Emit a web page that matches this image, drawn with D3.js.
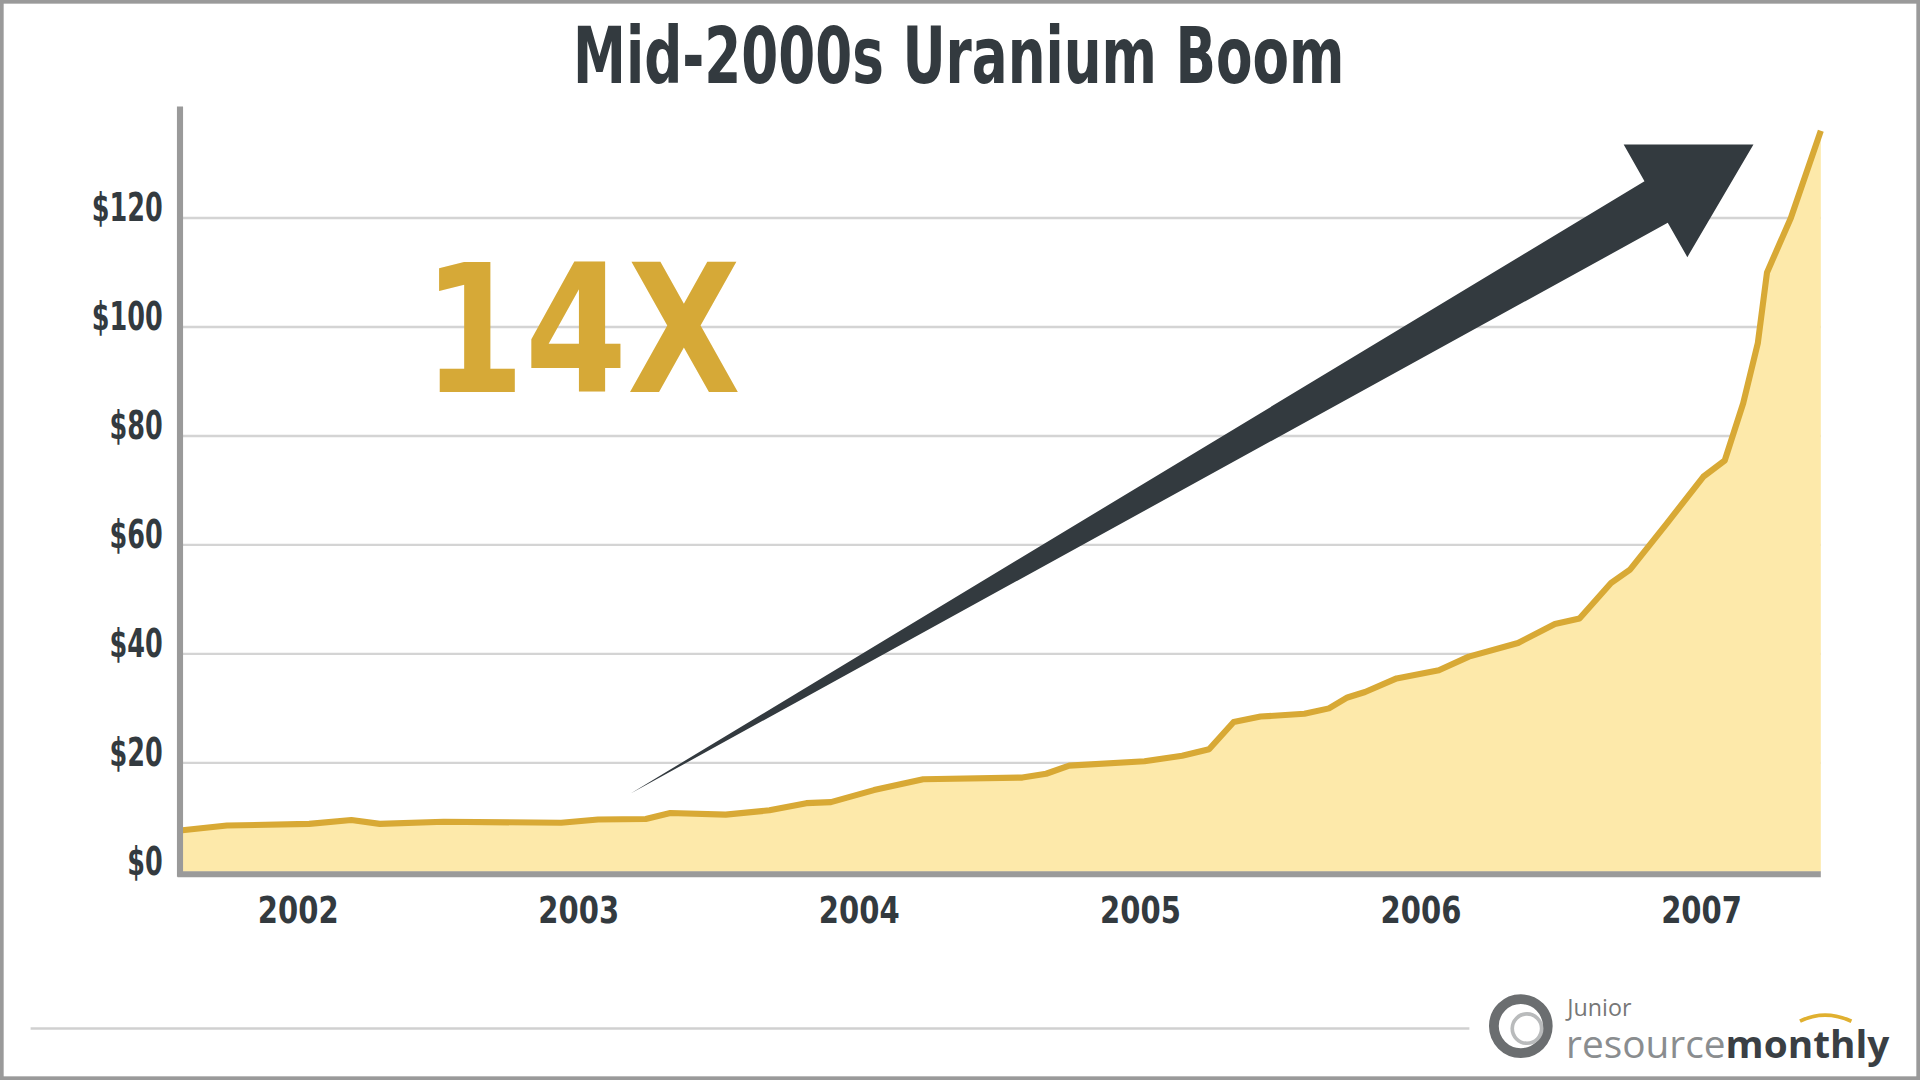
<!DOCTYPE html>
<html><head><meta charset="utf-8">
<script src="https://cdn.jsdelivr.net/npm/d3@7"></script>
<style>
html,body{margin:0;padding:0;background:#fff;}
svg{display:block;}
</style></head>
<body>
<svg id="chart" width="1920" height="1080" viewBox="0 0 1568 882"></svg>
<script>
// uranium spot price, USD/lb
const dates = ['2001-08-01','2001-10-01','2002-01-16','2002-03-12','2002-04-18','2002-07-10','2002-12-10',
  '2003-01-27','2003-03-30','2003-05-01','2003-07-12','2003-09-07','2003-10-25','2003-11-26',
  '2004-01-21','2004-03-25','2004-08-01','2004-09-01','2004-10-01','2005-01-07','2005-02-25',
  '2005-04-01','2005-05-03','2005-06-07','2005-08-03','2005-09-04','2005-09-28','2005-10-21',
  '2005-12-01','2006-01-25','2006-03-05','2006-05-08','2006-06-25','2006-07-27','2006-09-06',
  '2006-10-01','2006-11-18','2007-01-04','2007-02-01','2007-02-25','2007-03-16','2007-03-28',
  '2007-04-28','2007-06-06'];
const prices = [7.6,8.5,8.8,9.5,8.8,9.2,9.0,
  9.6,9.7,10.8,10.5,11.3,12.6,12.8,
  15,17,17.3,18,19.5,20.3,21.3,
  22.5,27.5,28.5,29,30,32,33,
  35.5,37,39.5,42,45.5,46.5,53,
  55.5,64,72.5,75.5,86,97,110,
  120,136];
const yTicks = [0,20,40,60,80,100,120];
const yearTicks = [2002,2003,2004,2005,2006,2007];

const parse = d3.timeParse('%Y-%m-%d');
const data = dates.map((d, i) => ({ date: parse(d), price: prices[i] }));

const svg = d3.select('#chart');
const mLeft = 147, mRight = 1487, mTop = 87, mBottom = 712;
const cond = "'DejaVu Sans Condensed', 'DejaVu Sans', sans-serif";
const dark = '#333a3f';

// frame
svg.append('rect').attr('x', 1.5).attr('y', 1.5).attr('width', 1565).attr('height', 879)
  .attr('fill', '#fff').attr('stroke', '#9a9a9a').attr('stroke-width', 3);

const x = d3.scaleTime().domain(d3.extent(data, d => d.date)).range([mLeft, mRight]);
const y = d3.scaleLinear().domain([0, 120]).range([mBottom, 178]);

// grid
svg.append('g').selectAll('line').data(yTicks.slice(1)).join('line')
  .attr('x1', mLeft).attr('x2', mRight)
  .attr('y1', d => y(d)).attr('y2', d => y(d))
  .attr('stroke', '#d4d4d4').attr('stroke-width', 2);

// area + line
svg.append('path').datum(data)
  .attr('fill', '#fde9aa')
  .attr('d', d3.area().x(d => x(d.date)).y0(mBottom).y1(d => y(d.price)));
svg.append('path').datum(data)
  .attr('fill', 'none').attr('stroke', '#d8a935').attr('stroke-width', 5)
  .attr('stroke-linejoin', 'round')
  .attr('d', d3.line().x(d => x(d.date)).y(d => y(d.price)));

// axes lines
svg.append('line').attr('x1', mLeft).attr('x2', mLeft).attr('y1', mTop).attr('y2', 716)
  .attr('stroke', '#9a9a9a').attr('stroke-width', 5);
svg.append('line').attr('x1', mLeft - 2).attr('x2', mRight).attr('y1', 714).attr('y2', 714)
  .attr('stroke', '#9a9a9a').attr('stroke-width', 5);

// y axis labels (sit a little above their gridlines)
const yAxis = svg.append('g').attr('transform', `translate(${mLeft - 14},0)`)
  .call(d3.axisLeft(y).tickValues(yTicks).tickSize(0).tickPadding(0).tickFormat(d => '$' + d));
yAxis.select('.domain').remove();
yAxis.selectAll('text').attr('font-family', cond).attr('font-weight', 'bold')
  .attr('font-size', 32).attr('fill', dark).attr('dy', '0.06em')
  .attr('textLength', d => ('$' + d).length * 14.5).attr('lengthAdjust', 'spacingAndGlyphs');

// x axis labels
const xAxis = svg.append('g').attr('transform', `translate(0,${mBottom + 14})`)
  .call(d3.axisBottom(x).tickValues(yearTicks.map(yr => new Date(yr, 0, 1)))
    .tickSize(0).tickPadding(0).tickFormat(d3.timeFormat('%Y')));
xAxis.select('.domain').remove();
xAxis.selectAll('text').attr('font-family', cond).attr('font-weight', 'bold')
  .attr('font-size', 31).attr('fill', dark).attr('dy', '0.9em')
  .attr('textLength', 66).attr('lengthAdjust', 'spacingAndGlyphs');

// arrow
svg.append('polygon')
  .attr('points', '515,648 1343,148 1326,118 1432,118 1378,210 1362,182')
  .attr('fill', dark);

// title
svg.append('text').text('Mid-2000s Uranium Boom')
  .attr('x', 783).attr('y', 68).attr('text-anchor', 'middle')
  .attr('font-family', cond).attr('font-weight', 'bold').attr('font-size', 64)
  .attr('textLength', 630).attr('lengthAdjust', 'spacingAndGlyphs').attr('fill', dark);

// 14X
svg.append('text').text('14X')
  .attr('x', 345).attr('y', 320)
  .attr('font-family', "'DejaVu Sans', sans-serif").attr('font-weight', 'bold').attr('font-size', 145)
  .attr('textLength', 260).attr('lengthAdjust', 'spacingAndGlyphs').attr('fill', '#d6a937');

// footer
svg.append('line').attr('x1', 25).attr('x2', 1200).attr('y1', 840).attr('y2', 840)
  .attr('stroke', '#d0d0d0').attr('stroke-width', 2);
const logo = svg.append('g');
logo.append('circle').attr('cx', 1242).attr('cy', 838).attr('r', 22)
  .attr('fill', 'none').attr('stroke', '#6b6e70').attr('stroke-width', 8);
logo.append('circle').attr('cx', 1247).attr('cy', 840).attr('r', 12)
  .attr('fill', '#fff').attr('stroke', '#b9bbbc').attr('stroke-width', 3);
logo.append('text').text('Junior').attr('x', 1280).attr('y', 830)
  .attr('font-family', "'Open Sans', sans-serif").attr('font-size', 19).attr('fill', '#777');
const t = logo.append('text').attr('x', 1279).attr('y', 864)
  .attr('font-family', "'Open Sans', sans-serif").attr('font-size', 31)
  .attr('textLength', 264).attr('lengthAdjust', 'spacingAndGlyphs');
t.append('tspan').text('resource').attr('fill', '#8a8d8f');
t.append('tspan').text('monthly').attr('fill', '#3a3f44').attr('font-weight', 'bold');
logo.append('path').attr('d', 'M1470,834 Q1490,824 1512,834').attr('fill', 'none')
  .attr('stroke', '#e0b030').attr('stroke-width', 3);
</script>
</body></html>
